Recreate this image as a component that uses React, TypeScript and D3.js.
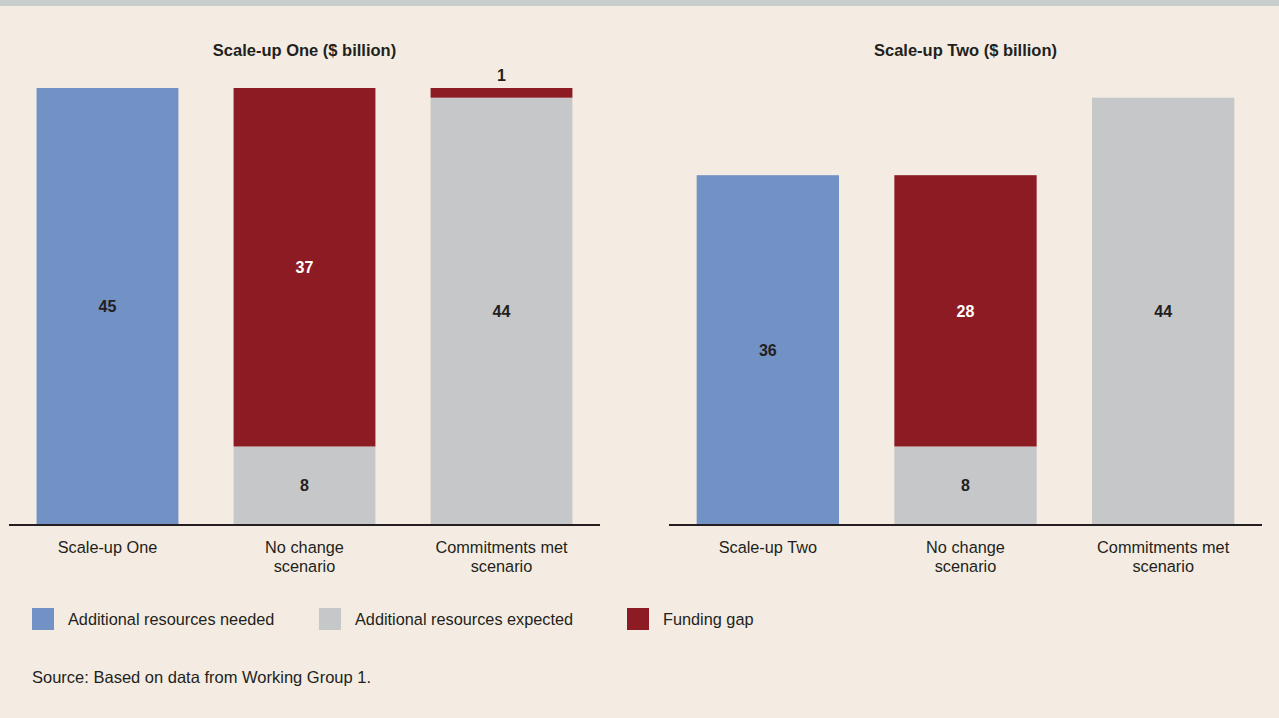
import React from "react";
import * as d3 from "d3";

const categoriesOne = ["Scale-up One", "No change\nscenario", "Commitments met\nscenario"];
const categoriesTwo = ["Scale-up Two", "No change\nscenario", "Commitments met\nscenario"];
const neededOne = [45, 0, 0];
const expectedOne = [0, 8, 44];
const gapOne = [0, 37, 1];
const neededTwo = [36, 0, 0];
const expectedTwo = [0, 8, 44];
const gapTwo = [0, 28, 0];
const titles = ["Scale-up One ($ billion)", "Scale-up Two ($ billion)"];
const legendLabels = ["Additional resources needed", "Additional resources expected", "Funding gap"];
const sourceText = "Source: Based on data from Working Group 1.";

const W = 1279;
const H = 718;
const BG = "#f4ece2";
const BLUE = "#7291c5";
const GRAY = "#c6c7c8";
const RED = "#8d1b24";
const TEXT = "#231f20";
const FONT = "'Liberation Sans', Arial, sans-serif";

const keys = ["needed", "expected", "gap"] as const;
const colors: Record<string, string> = { needed: BLUE, expected: GRAY, gap: RED };

const y = d3.scaleLinear().domain([0, 45]).range([524, 88]);

function Panel({ cats, needed, expected, gap, title, x0, x1 }: any) {
  const x = d3.scaleBand<string>().domain(cats).range([x0, x1]).paddingInner(0.28).paddingOuter(0.14);
  const rows = cats.map((c: string, i: number) => ({ cat: c, needed: needed[i], expected: expected[i], gap: gap[i] }));
  const stack = d3.stack<any>().keys(keys as any)(rows);
  return (
    <g>
      <text x={(x0 + x1) / 2} y={56} textAnchor="middle" fontFamily={FONT} fontWeight="bold" fontSize={16.5} fill={TEXT}>
        {title}
      </text>
      {stack.map((series) =>
        series.map((d, i) => {
          const v = d[1] - d[0];
          if (v <= 0) return null;
          const top = y(d[1]);
          const bot = y(d[0]);
          const h = bot - top;
          const bx = x(cats[i])!;
          const cx = bx + x.bandwidth() / 2;
          const small = h < 20;
          return (
            <g key={series.key + i}>
              <rect x={bx} y={top} width={x.bandwidth()} height={h} fill={colors[series.key]} />
              <text
                x={cx}
                y={small ? top - 7 : (top + bot) / 2 + 6}
                textAnchor="middle"
                fontFamily={FONT}
                fontWeight="bold"
                fontSize={16}
                fill={series.key === "gap" && !small ? "#ffffff" : TEXT}
              >
                {v}
              </text>
            </g>
          );
        })
      )}
      <line x1={x0} x2={x1} y1={y(0) + 1} y2={y(0) + 1} stroke="#231f20" strokeWidth={2} />
      {cats.map((c: string) => (
        <text key={c} x={x(c)! + x.bandwidth() / 2} y={553} textAnchor="middle" fontFamily={FONT} fontSize={16.3} fill={TEXT}>
          {c.split("\n").map((line, k) => (
            <tspan key={k} x={x(c)! + x.bandwidth() / 2} dy={k === 0 ? 0 : 19}>
              {line}
            </tspan>
          ))}
        </text>
      ))}
    </g>
  );
}

export default function App() {
  const legendX = [32, 319, 627];
  const legendColors = [BLUE, GRAY, RED];
  return (
    <svg width={W} height={H} style={{ position: "absolute", left: 0, top: 0, display: "block" }}>
      <rect x={0} y={0} width={W} height={H} fill={BG} />
      <rect x={0} y={0} width={W} height={6} fill="#c8cdcd" />
      <Panel cats={categoriesOne} needed={neededOne} expected={expectedOne} gap={gapOne} title={titles[0]} x0={9} x1={600} />
      <Panel cats={categoriesTwo} needed={neededTwo} expected={expectedTwo} gap={gapTwo} title={titles[1]} x0={669} x1={1262} />
      {legendLabels.map((l, i) => (
        <g key={l}>
          <rect x={legendX[i]} y={608} width={22} height={22} fill={legendColors[i]} />
          <text x={legendX[i] + 36} y={625} fontFamily={FONT} fontSize={16.3} fill={TEXT}>
            {l}
          </text>
        </g>
      ))}
      <text x={32} y={683} fontFamily={FONT} fontSize={16.5} fill={TEXT}>
        {sourceText}
      </text>
    </svg>
  );
}
